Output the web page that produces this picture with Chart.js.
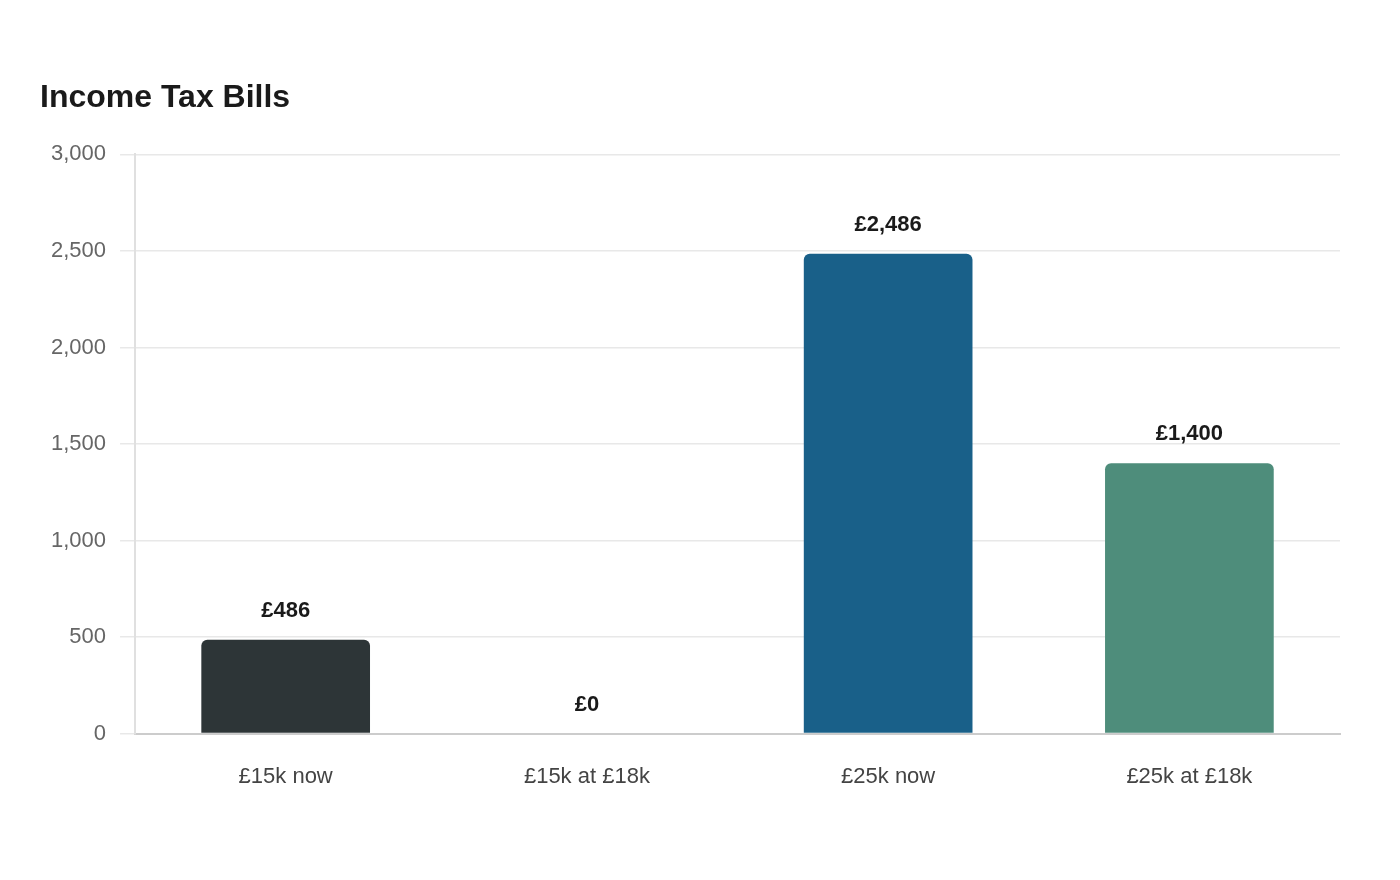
<!DOCTYPE html>
<html>
<head>
<meta charset="utf-8">
<script src="https://cdn.jsdelivr.net/npm/chart.js@4"></script>
<style>
  html, body { margin: 0; padding: 0; background: #fff; }
  #wrap { width: 1400px; height: 880px; }
</style>
</head>
<body>
<div id="wrap"><canvas id="chart"></canvas></div>
<script>
// Dados do gráfico
const categories = ['£15k now', '£15k at £18k', '£25k now', '£25k at £18k'];
const taxBills = [486, 0, 2486, 1400];
const barColors = ['#2d3537', '#2d3537', '#196089', '#4e8d7b'];
const yTicks = [0, 500, 1000, 1500, 2000, 2500, 3000];

// Rótulos de valor acima das barras
const valueLabels = {
  id: 'valueLabels',
  afterDatasetsDraw(chart) {
    const ctx = chart.ctx;
    const meta = chart.getDatasetMeta(0);
    ctx.save();
    ctx.font = 'bold 22px "Liberation Sans", Arial, sans-serif';
    ctx.fillStyle = '#1a1a1a';
    ctx.textAlign = 'center';
    ctx.textBaseline = 'middle';
    meta.data.forEach((bar, i) => {
      ctx.fillText('£' + taxBills[i].toLocaleString('en-GB'), bar.x, bar.y - 29);
    });
    ctx.restore();
  }
};

const ctx = document.getElementById('chart').getContext('2d');
new Chart(ctx, {
  type: 'bar',
  data: {
    labels: categories,
    datasets: [{
      data: taxBills,
      backgroundColor: barColors,
      borderRadius: 6,
      barPercentage: 0.7,
      categoryPercentage: 0.8
    }]
  },
  options: {
    responsive: true,
    maintainAspectRatio: false,
    animation: false,
    layout: {
      padding: { left: 40, right: 60, top: 79, bottom: 60 }
    },
    plugins: {
      legend: { display: false },
      tooltip: { enabled: false },
      title: {
        display: true,
        text: 'Income Tax Bills',
        align: 'start',
        color: '#1a1a1a',
        font: { family: '"Liberation Sans", Arial, sans-serif', size: 32, weight: 'bold' },
        padding: { top: 0, bottom: 37 }
      }
    },
    scales: {
      x: {
        grid: { display: false, drawTicks: false },
        border: { color: '#cccccc', width: 2 },
        ticks: {
          color: '#444444',
          padding: 30,
          font: { family: '"Liberation Sans", Arial, sans-serif', size: 22 }
        }
      },
      y: {
        min: 0,
        max: 3000,
        afterBuildTicks: (axis) => {
          axis.ticks = yTicks.map(v => ({ value: v }));
        },
        afterFit: (axis) => {
          axis.width -= 3;
        },
        grid: { color: '#e8e8e8', tickLength: 15, lineWidth: 1.5 },
        border: { color: '#e0e0e0', width: 2 },
        ticks: {
          color: '#666666',
          padding: 14,
          font: { family: '"Liberation Sans", Arial, sans-serif', size: 22 },
          callback: (v) => v.toLocaleString('en-US')
        }
      }
    }
  },
  plugins: [valueLabels]
});
</script>
</body>
</html>
